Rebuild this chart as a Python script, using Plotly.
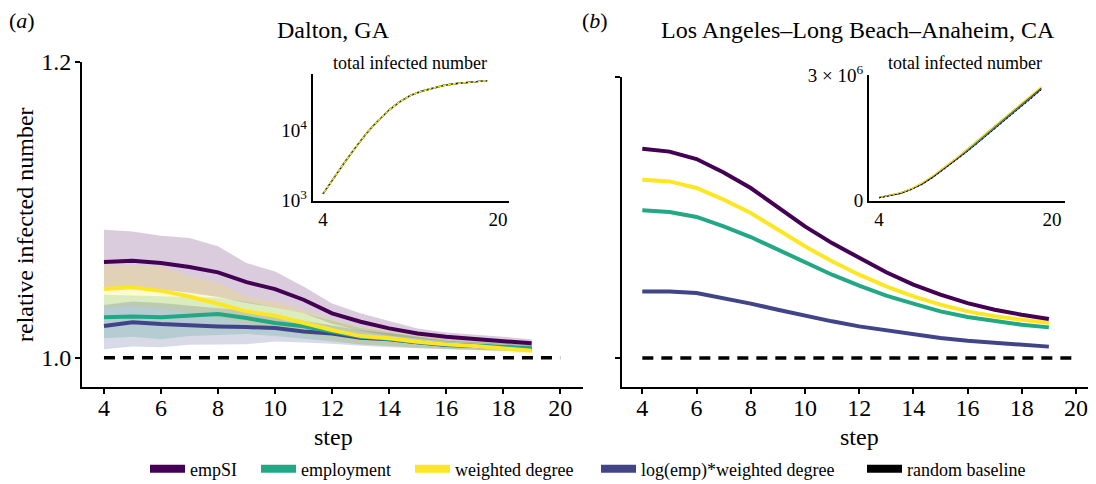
import plotly.graph_objects as go

# The page body has an 8px margin, so the figure is drawn 8px smaller and
# reference pixel positions are converted by subtracting that offset.
OFF = 8
W, H = 1096 - OFF, 484 - OFF
FONT = "Liberation Serif, Times New Roman, serif"

# ---------------- data ----------------
steps = [4, 5, 6, 7, 8, 9, 10, 11, 12, 13, 14, 15, 16, 17, 18, 19]
baseline_steps = [4, 5, 6, 7, 8, 9, 10, 11, 12, 13, 14, 15, 16, 17, 18, 19, 20]
baseline_values = [1.0, 1.0, 1.0, 1.0, 1.0, 1.0, 1.0, 1.0, 1.0, 1.0, 1.0, 1.0, 1.0, 1.0, 1.0, 1.0, 1.0]

series_names = ["empSI", "employment", "weighted degree", "log(emp)*weighted degree", "random baseline"]
series_colors = ["#440154", "#22a884", "#fde725", "#414487", "#000000"]
band_colors = ["rgba(68,1,84,0.2)", "rgba(34,168,132,0.2)", "rgba(253,231,37,0.2)", "rgba(65,68,135,0.2)"]

# (a) Dalton, GA  -- relative infected number (mean, upper, lower)
dalton_empsi = [1.0647, 1.0656, 1.0640, 1.0613, 1.0577, 1.0511, 1.0464, 1.0392, 1.0300, 1.0243, 1.0198, 1.0164, 1.0142, 1.0126, 1.0113, 1.0097]
dalton_empsi_hi = [1.0866, 1.0854, 1.0825, 1.0810, 1.0753, 1.0640, 1.0583, 1.0481, 1.0367, 1.0300, 1.0248, 1.0198, 1.0171, 1.0158, 1.0142, 1.0124]
dalton_empsi_lo = [1.0460, 1.0470, 1.0460, 1.0440, 1.0410, 1.0370, 1.0340, 1.0300, 1.0230, 1.0180, 1.0150, 1.0130, 1.0110, 1.0100, 1.0090, 1.0075]

dalton_employment = [1.0274, 1.0279, 1.0274, 1.0284, 1.0295, 1.0268, 1.0234, 1.0212, 1.0176, 1.0142, 1.0126, 1.0104, 1.0090, 1.0081, 1.0074, 1.0063]
dalton_employment_hi = [1.0425, 1.0420, 1.0415, 1.0410, 1.0405, 1.0380, 1.0340, 1.0300, 1.0250, 1.0200, 1.0175, 1.0145, 1.0125, 1.0112, 1.0100, 1.0088]
dalton_employment_lo = [1.0131, 1.0142, 1.0124, 1.0147, 1.0154, 1.0161, 1.0147, 1.0131, 1.0110, 1.0090, 1.0080, 1.0065, 1.0058, 1.0052, 1.0048, 1.0040]

dalton_wdegree = [1.0464, 1.0477, 1.0452, 1.0414, 1.0365, 1.0313, 1.0284, 1.0234, 1.0187, 1.0146, 1.0131, 1.0108, 1.0090, 1.0079, 1.0063, 1.0047]
dalton_wdegree_hi = [1.0628, 1.0624, 1.0617, 1.0550, 1.0505, 1.0414, 1.0380, 1.0324, 1.0260, 1.0210, 1.0180, 1.0150, 1.0125, 1.0110, 1.0095, 1.0080]
dalton_wdegree_lo = [1.0340, 1.0350, 1.0330, 1.0300, 1.0270, 1.0230, 1.0200, 1.0160, 1.0120, 1.0090, 1.0080, 1.0065, 1.0055, 1.0048, 1.0038, 1.0025]

dalton_logemp = [1.0215, 1.0240, 1.0227, 1.0218, 1.0211, 1.0207, 1.0200, 1.0177, 1.0164, 1.0135, 1.0124, 1.0104, 1.0086, 1.0079, 1.0070, 1.0061]
dalton_logemp_hi = [1.0357, 1.0380, 1.0370, 1.0350, 1.0335, 1.0320, 1.0290, 1.0250, 1.0220, 1.0185, 1.0165, 1.0140, 1.0115, 1.0105, 1.0095, 1.0085]
dalton_logemp_lo = [1.0057, 1.0075, 1.0071, 1.0087, 1.0087, 1.0091, 1.0109, 1.0102, 1.0095, 1.0080, 1.0070, 1.0060, 1.0055, 1.0050, 1.0045, 1.0040]

# (b) Los Angeles-Long Beach-Anaheim, CA
la_empsi = [1.1490, 1.1469, 1.1416, 1.1321, 1.1210, 1.1075, 1.0937, 1.0818, 1.0712, 1.0610, 1.0522, 1.0451, 1.0391, 1.0344, 1.0308, 1.0278]
la_employment = [1.1051, 1.1039, 1.1004, 1.0937, 1.0861, 1.0771, 1.0676, 1.0593, 1.0515, 1.0444, 1.0387, 1.0332, 1.0292, 1.0261, 1.0237, 1.0218]
la_wdegree = [1.1269, 1.1257, 1.1210, 1.1127, 1.1032, 1.0913, 1.0795, 1.0688, 1.0593, 1.0510, 1.0439, 1.0380, 1.0332, 1.0297, 1.0273, 1.0249]
la_logemp = [1.0474, 1.0474, 1.0463, 1.0427, 1.0387, 1.0344, 1.0301, 1.0261, 1.0225, 1.0195, 1.0166, 1.0142, 1.0123, 1.0107, 1.0093, 1.0081]
la_band = [0.0012, 0.0011, 0.0010, 0.0010, 0.0009, 0.0009, 0.0008, 0.0008, 0.0007, 0.0007, 0.0006, 0.0006, 0.0006, 0.0005, 0.0005, 0.0005]

# insets: total infected number
dalton_total = [1250, 2120, 3520, 5700, 9050, 13400, 18900, 24900, 30700, 35200, 39100, 42400, 44900, 46800, 48100, 49500]
la_total_empsi = [73000, 122000, 185000, 285000, 420000, 590000, 780000, 980000, 1190000, 1400000, 1620000, 1840000, 2060000, 2270000, 2480000, 2700000]
la_total_employment = [72000, 120000, 180000, 280000, 410000, 580000, 770000, 960000, 1170000, 1380000, 1600000, 1820000, 2040000, 2250000, 2470000, 2690000]
la_total_wdegree = [75000, 125000, 190000, 290000, 430000, 600000, 790000, 990000, 1200000, 1420000, 1640000, 1860000, 2080000, 2300000, 2510000, 2720000]
la_total_logemp = [71000, 118000, 177000, 275000, 400000, 565000, 755000, 945000, 1150000, 1360000, 1580000, 1800000, 2010000, 2220000, 2440000, 2660000]
la_total_random = [70000, 115000, 172000, 270000, 390000, 555000, 745000, 935000, 1140000, 1350000, 1570000, 1780000, 2000000, 2210000, 2420000, 2650000]

x_ticks = [4, 6, 8, 10, 12, 14, 16, 18, 20]

# ---------------- figure ----------------
fig = go.Figure()


def band(xs, lo, hi, color, xa, ya):
    fig.add_trace(go.Scatter(
        x=xs + xs[::-1], y=hi + lo[::-1], fill="toself", fillcolor=color,
        line=dict(width=0), mode="lines", hoverinfo="skip", showlegend=False,
        xaxis=xa, yaxis=ya))


def line(xs, ys, color, xa, ya, width=4, dash=None):
    fig.add_trace(go.Scatter(
        x=xs, y=ys, mode="lines", line=dict(color=color, width=width, dash=dash),
        showlegend=False, xaxis=xa, yaxis=ya))


# panel (a)
dalton_mean = [dalton_empsi, dalton_employment, dalton_wdegree, dalton_logemp]
dalton_hi = [dalton_empsi_hi, dalton_employment_hi, dalton_wdegree_hi, dalton_logemp_hi]
dalton_lo = [dalton_empsi_lo, dalton_employment_lo, dalton_wdegree_lo, dalton_logemp_lo]
for i in range(4):
    band(steps, dalton_lo[i], dalton_hi[i], band_colors[i], "x", "y")
for i in [3, 1, 2, 0]:
    line(steps, dalton_mean[i], series_colors[i], "x", "y")
line(baseline_steps, baseline_values, "#000000", "x", "y", width=3.5, dash="11px,8px")

# panel (b)
la_mean = [la_empsi, la_employment, la_wdegree, la_logemp]
for i in range(4):
    lo = [m - b for m, b in zip(la_mean[i], la_band)]
    hi = [m + b for m, b in zip(la_mean[i], la_band)]
    band(steps, lo, hi, band_colors[i], "x2", "y2")
for i in [3, 1, 2, 0]:
    line(steps, la_mean[i], series_colors[i], "x2", "y2")
line(baseline_steps, baseline_values, "#000000", "x2", "y2", width=3.5, dash="11px,8px")

# inset (a)
for i in [0, 3, 1, 2]:
    line(steps, dalton_total, series_colors[i], "x3", "y3", width=1.4)
line(steps, dalton_total, "#000000", "x3", "y3", width=1, dash="2px,3px")

# inset (b)
la_totals = [la_total_empsi, la_total_employment, la_total_wdegree, la_total_logemp]
for i in [3, 1, 0, 2]:
    line(steps, la_totals[i], series_colors[i], "x4", "y4", width=1.3)
line(steps, la_total_random, "#000000", "x4", "y4", width=1, dash="2px,2px")


def px_x(p):
    return (p - OFF) / W


def px_y(p):
    return 1 - (p - OFF) / H


# legend entries, one legend per entry so each sits where the reference puts it
legend_swatch_x = [149, 260, 414, 600, 866]
legend_layout = {}
for k, (name, color) in enumerate(zip(series_names, series_colors)):
    lname = "legend" if k == 0 else "legend%d" % (k + 1)
    fig.add_trace(go.Scatter(x=[None], y=[None], mode="lines", name=name, legend=lname,
                             line=dict(color=color, width=8), xaxis="x", yaxis="y"))
    legend_layout[lname] = dict(orientation="h", x=px_x(legend_swatch_x[k] - 4), y=px_y(469),
                                xanchor="left", yanchor="middle",
                                font=dict(size=18, family=FONT, color="black"),
                                bgcolor="rgba(0,0,0,0)", itemwidth=35)

axis_common = dict(showgrid=False, zeroline=False, showline=True, linecolor="black",
                   linewidth=2, color="black", mirror=False, automargin=False)

fig.update_layout(
    width=W, height=H,
    margin=dict(l=0, r=0, t=0, b=0, pad=0, autoexpand=False),
    paper_bgcolor="white", plot_bgcolor="rgba(0,0,0,0)",
    font=dict(family=FONT, size=24, color="black"),
    showlegend=True,
    xaxis=dict(domain=[px_x(82), px_x(583)], range=[3.23, 20.8], anchor="y",
               tickvals=x_ticks, ticks="outside", ticklen=5, tickwidth=1.5,
               ticklabelstandoff=-7, tickfont=dict(size=24), **axis_common),
    yaxis=dict(domain=[px_y(387), px_y(62)], range=[0.98017, 1.2], anchor="x",
               tickvals=[1.0, 1.2], ticktext=["1.0", "1.2"], ticks="outside", ticklen=5,
               tickwidth=1.5, ticklabelstandoff=-1, tickfont=dict(size=24), **axis_common),
    xaxis2=dict(domain=[px_x(622), 1.0], range=[3.25, 20.74], anchor="y2",
                tickvals=x_ticks, ticks="outside", ticklen=5, tickwidth=1.5,
                ticklabelstandoff=-7, tickfont=dict(size=24), **axis_common),
    yaxis2=dict(domain=[px_y(387), px_y(77)], range=[0.97937, 1.2], anchor="x2",
                tickvals=[1.0, 1.2], showticklabels=False, ticks="outside", ticklen=5,
                tickwidth=1.5, **axis_common),
    xaxis3=dict(domain=[px_x(312.7), px_x(509)], range=[3.06, 21.0], anchor="y3",
                tickvals=[4, 20], ticks="", tickfont=dict(size=19), **axis_common),
    yaxis3=dict(domain=[px_y(200.7), px_y(74)], type="log", range=[3, 4.79], anchor="x3",
                tickvals=[1000, 10000], ticktext=["10<sup>3</sup>", "10<sup>4</sup>"],
                ticks="", tickfont=dict(size=19), **axis_common),
    xaxis4=dict(domain=[px_x(869), px_x(1065)], range=[3.07, 21.2], anchor="y4",
                tickvals=[4, 20], ticks="", tickfont=dict(size=19), **axis_common),
    yaxis4=dict(domain=[px_y(200.7), px_y(75)], range=[0, 3000000], anchor="x4",
                tickvals=[0, 3000000], ticktext=["0", "3 × 10<sup>6</sup>"],
                ticks="", tickfont=dict(size=19), **axis_common),
    **legend_layout,
)

annotations = [
    dict(text="(<i>a</i>)", x=px_x(7), y=px_y(20), xanchor="left", yanchor="middle", font=dict(size=22)),
    dict(text="(<i>b</i>)", x=px_x(580), y=px_y(20), xanchor="left", yanchor="middle", font=dict(size=22)),
    dict(text="Dalton, GA", x=px_x(333), y=px_y(30), xanchor="center", yanchor="middle", font=dict(size=24)),
    dict(text="Los Angeles–Long Beach–Anaheim, CA", x=px_x(858), y=px_y(30), xanchor="center",
         yanchor="middle", font=dict(size=24)),
    dict(text="total infected number", x=px_x(410), y=px_y(63), xanchor="center", yanchor="middle",
         font=dict(size=18)),
    dict(text="total infected number", x=px_x(965), y=px_y(63), xanchor="center", yanchor="middle",
         font=dict(size=18)),
    dict(text="relative infected number", x=px_x(25), y=px_y(225), xanchor="center", yanchor="middle",
         textangle=-90, font=dict(size=24)),
    dict(text="step", x=px_x(333), y=px_y(437), xanchor="center", yanchor="middle", font=dict(size=24)),
    dict(text="step", x=px_x(859), y=px_y(437), xanchor="center", yanchor="middle", font=dict(size=24)),
]
for a in annotations:
    a.update(xref="paper", yref="paper", showarrow=False)
fig.update_layout(annotations=annotations)

fig.write_html("out.html")
